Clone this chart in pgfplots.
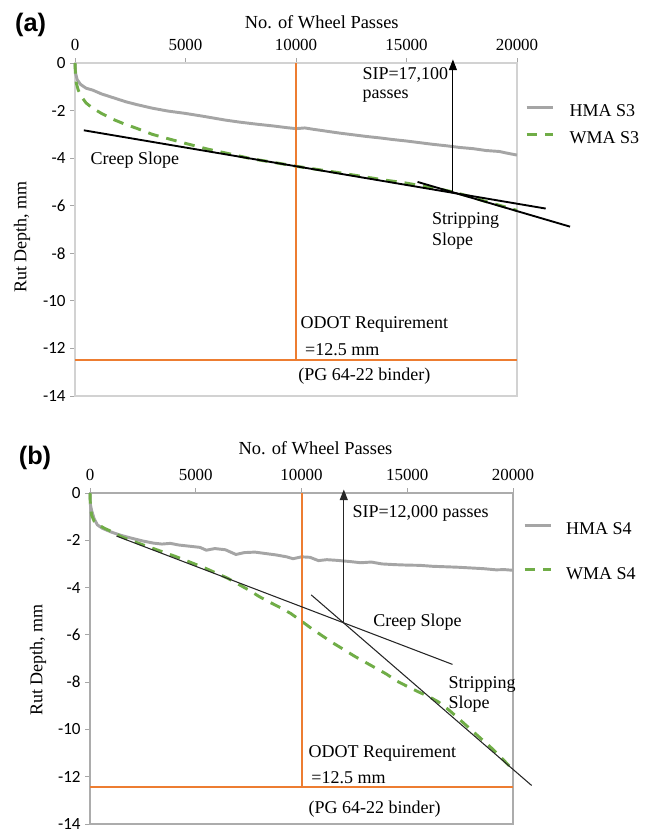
\documentclass[border=0pt]{standalone}
\usepackage{fontspec}
\setmainfont{Liberation Serif}
\newfontfamily\calib{Carlito}
\newfontfamily\arialf{Liberation Sans}
\usepackage{pgfplots}
\pgfplotsset{compat=1.18}
\usetikzlibrary{arrows.meta}
\definecolor{hma}{RGB}{165,165,165}
\definecolor{wma}{RGB}{112,173,71}
\definecolor{odot}{RGB}{237,125,49}

\pgfplotstableread{
x y
0 0
30 -0.45
100 -0.7
250 -0.9
500 -1.06
800 -1.14
1200 -1.3
1700 -1.45
2300 -1.63
2800 -1.75
3500 -1.9
4200 -2.02
5000 -2.12
5800 -2.24
6800 -2.4
7400 -2.48
8200 -2.57
9000 -2.65
9600 -2.72
10000 -2.76
10400 -2.73
10800 -2.79
11400 -2.87
12000 -2.95
12600 -3.02
13200 -3.09
13800 -3.15
14400 -3.22
15000 -3.28
15600 -3.35
16200 -3.42
16800 -3.48
17400 -3.55
18000 -3.6
18600 -3.68
19200 -3.72
19600 -3.8
20000 -3.87
}\hmaA

\pgfplotstableread{
x y
0 0
20 -0.5
60 -0.85
150 -1.15
300 -1.42
500 -1.68
800 -1.9
1200 -2.12
1700 -2.36
2200 -2.55
2800 -2.75
3500 -3.0
4200 -3.18
5000 -3.38
6000 -3.62
7000 -3.82
8000 -4.03
9000 -4.18
10000 -4.34
11000 -4.48
12000 -4.62
13000 -4.77
14000 -4.92
15000 -5.05
16000 -5.22
16500 -5.3
17000 -5.4
17500 -5.52
18000 -5.65
18500 -5.8
19000 -5.93
19500 -6.06
20000 -6.2
}\wmaA

\pgfplotstableread{
x y
0 0
20 -0.5
80 -0.75
200 -1.1
350 -1.35
600 -1.5
1000 -1.65
1500 -1.8
2000 -1.92
2500 -2.03
3000 -2.12
3400 -2.16
3800 -2.13
4200 -2.2
4700 -2.25
5200 -2.3
5500 -2.42
5900 -2.35
6400 -2.4
6900 -2.6
7300 -2.52
7800 -2.5
8300 -2.56
8800 -2.62
9300 -2.7
9600 -2.78
10000 -2.7
10400 -2.72
10800 -2.86
11200 -2.82
11700 -2.85
12300 -2.9
12800 -2.95
13300 -2.92
13800 -3.0
14400 -3.03
15000 -3.05
15600 -3.06
16200 -3.1
16800 -3.12
17400 -3.14
18000 -3.17
18600 -3.2
19200 -3.25
19600 -3.24
20000 -3.27
}\hmaB

\pgfplotstableread{
x y
0 0
20 -0.6
80 -0.95
200 -1.2
400 -1.35
700 -1.5
1000 -1.62
1500 -1.86
2000 -2.03
2500 -2.19
3000 -2.35
3500 -2.51
4000 -2.67
4500 -2.84
5000 -3.02
5500 -3.2
6000 -3.4
6500 -3.6
7000 -3.85
7500 -4.1
8000 -4.38
8500 -4.62
9000 -4.85
9500 -5.1
10000 -5.42
10500 -5.75
11000 -6.05
11500 -6.35
12000 -6.62
12500 -6.9
13000 -7.15
13500 -7.4
14000 -7.65
14500 -7.95
15000 -8.18
15500 -8.4
16000 -8.6
16500 -8.85
17000 -9.2
17500 -9.6
18000 -10.0
18500 -10.4
19000 -10.8
19500 -11.25
20000 -11.7
}\wmaB

\pgfplotsset{
  panel/.style={
    anchor=south west, scale only axis, clip=false,
    xmin=0, xmax=20000, ymin=-14, ymax=0,
    scaled x ticks=false, scaled y ticks=false,
    xtick={0,5000,10000,15000,20000},
    xticklabels={0,5000,10000,15000,20000},
    ytick={-14,-12,...,0},
    yticklabels={-14,-12,-10,-8,-6,-4,-2,0},
    xtick pos=right, xticklabel pos=right, ytick pos=left,
    tick align=outside, major tick length=3.5pt,
    tick style={gray!70, line width=0.6pt},
    xticklabel style={font=\fontsize{12.7}{15}\selectfont, yshift=2pt},
    yticklabel style={font=\calib\fontsize{12.8}{15}\selectfont},
    legend cell align=left,
    legend image code/.code={\draw[##1] (0pt,3.5pt) -- (20pt,3.5pt);},
  },
}
\tikzset{txt/.style={font=\fontsize{13.5}{15}\selectfont, anchor=west, inner sep=0pt}}

\begin{document}
\begin{tikzpicture}
\path[use as bounding box] (0,0) rectangle (484.5pt,621.75pt);

% ---------------- (a) ----------------
\begin{axis}[panel, at={(56.25pt,324.75pt)}, width=331.5pt, height=249.75pt,
  axis line style={draw=gray!35, line width=0.8pt},
  legend style={at={(rel axis cs:1,0.875)}, anchor=north west, xshift=6pt,
    draw=none, fill=none, inner sep=0pt, row sep=9.25pt,
    font=\fontsize{13.5}{15}\selectfont,
    nodes={inner sep=0pt, text height=9pt, text depth=2pt},
    /tikz/every odd column/.append style={column sep=11pt}},
]
\addplot[hma, line width=2.2pt] table[x=x,y=y] {\hmaA};
\addlegendentry{HMA S3}
\addplot[wma, line width=2.2pt, dash pattern=on 8pt off 6pt] table[x=x,y=y] {\wmaA};
\addlegendentry{WMA S3}
\addplot[odot, line width=1.5pt, forget plot] coordinates {(10000,0) (10000,-12.5)};
\addplot[odot, line width=1.5pt, forget plot] coordinates {(0,-12.5) (20000,-12.5)};
\addplot[black, line width=1.4pt, forget plot] coordinates {(400,-2.83) (21300,-6.12)};
\addplot[black, line width=1.4pt, forget plot] coordinates {(15500,-5.0) (22400,-6.88)};
\addplot[black, line width=0.8pt, -{Triangle[width=6pt,length=8pt]}, forget plot] coordinates {(17100,-5.45) (17100,0.15)};
\node[txt] at (axis cs:13000,-0.5) {SIP=17,100};
\node[txt] at (axis cs:13000,-1.4) {passes};
\node[txt] at (axis cs:700,-4.1) {Creep Slope};
\node[txt] at (axis cs:16150,-6.63) {Stripping};
\node[txt] at (axis cs:16150,-7.5) {Slope};
\node[txt] at (axis cs:10200,-11.0) {ODOT Requirement};
\node[txt] at (axis cs:10400,-12.05) {=12.5 mm};
\node[txt] at (axis cs:10100,-13.17) {(PG 64-22 binder)};
\end{axis}

% ---------------- (b) ----------------
\begin{axis}[panel, at={(67.5pt,3.75pt)}, width=317.25pt, height=248.25pt,
  axis line style={draw=gray!65, line width=0.8pt},
  legend style={at={(rel axis cs:1,0.912)}, anchor=north west, xshift=7.5pt,
    draw=none, fill=none, inner sep=0pt, row sep=22.5pt,
    font=\fontsize{13.5}{15}\selectfont,
    nodes={inner sep=0pt, text height=9pt, text depth=2pt},
    /tikz/every odd column/.append style={column sep=10pt}},
]
\addplot[hma, line width=2.2pt] table[x=x,y=y] {\hmaB};
\addlegendentry{HMA S4}
\addplot[wma, line width=2.2pt, dash pattern=on 8pt off 6pt] table[x=x,y=y] {\wmaB};
\addlegendentry{WMA S4}
\addplot[odot, line width=1.5pt, forget plot] coordinates {(10000,0) (10000,-12.45)};
\addplot[odot, line width=1.5pt, forget plot] coordinates {(0,-12.45) (20000,-12.45)};
\addplot[black!85, line width=0.8pt, forget plot] coordinates {(1250,-1.82) (17140,-7.25)};
\addplot[black!85, line width=0.8pt, forget plot] coordinates {(10460,-4.31) (20880,-12.37)};
\addplot[black!85, line width=0.8pt, -{Triangle[width=6pt,length=8pt]}, forget plot] coordinates {(12000,-5.5) (12000,0.15)};
\node[txt] at (axis cs:12400,-0.85) {SIP=12,000 passes};
\node[txt] at (axis cs:13380,-5.47) {Creep Slope};
\node[txt] at (axis cs:16940,-8.1) {Stripping};
\node[txt] at (axis cs:16940,-8.95) {Slope};
\node[txt] at (axis cs:10320,-11.0) {ODOT Requirement};
\node[txt] at (axis cs:10460,-12.05) {=12.5 mm};
\node[txt] at (axis cs:10320,-13.36) {(PG 64-22 binder)};
\end{axis}

% titles and labels
\node[font=\arialf\bfseries\fontsize{19}{21}\selectfont] at (23pt,603pt) {(a)};
\node[font=\arialf\bfseries\fontsize{19}{21}\selectfont] at (26.25pt,278.25pt) {(b)};
\node[font=\fontsize{13.8}{15}\selectfont] at (241.3pt,605.25pt) {No. of Wheel Passes};
\node[font=\fontsize{13.8}{15}\selectfont] at (236.6pt,285.75pt) {No. of Wheel Passes};
\node[font=\fontsize{13.5}{15}\selectfont, rotate=90] at (16.5pt,444pt) {Rut Depth, mm};
\node[font=\fontsize{13.5}{15}\selectfont, rotate=90] at (28.5pt,126.75pt) {Rut Depth, mm};
\end{tikzpicture}
\end{document}
